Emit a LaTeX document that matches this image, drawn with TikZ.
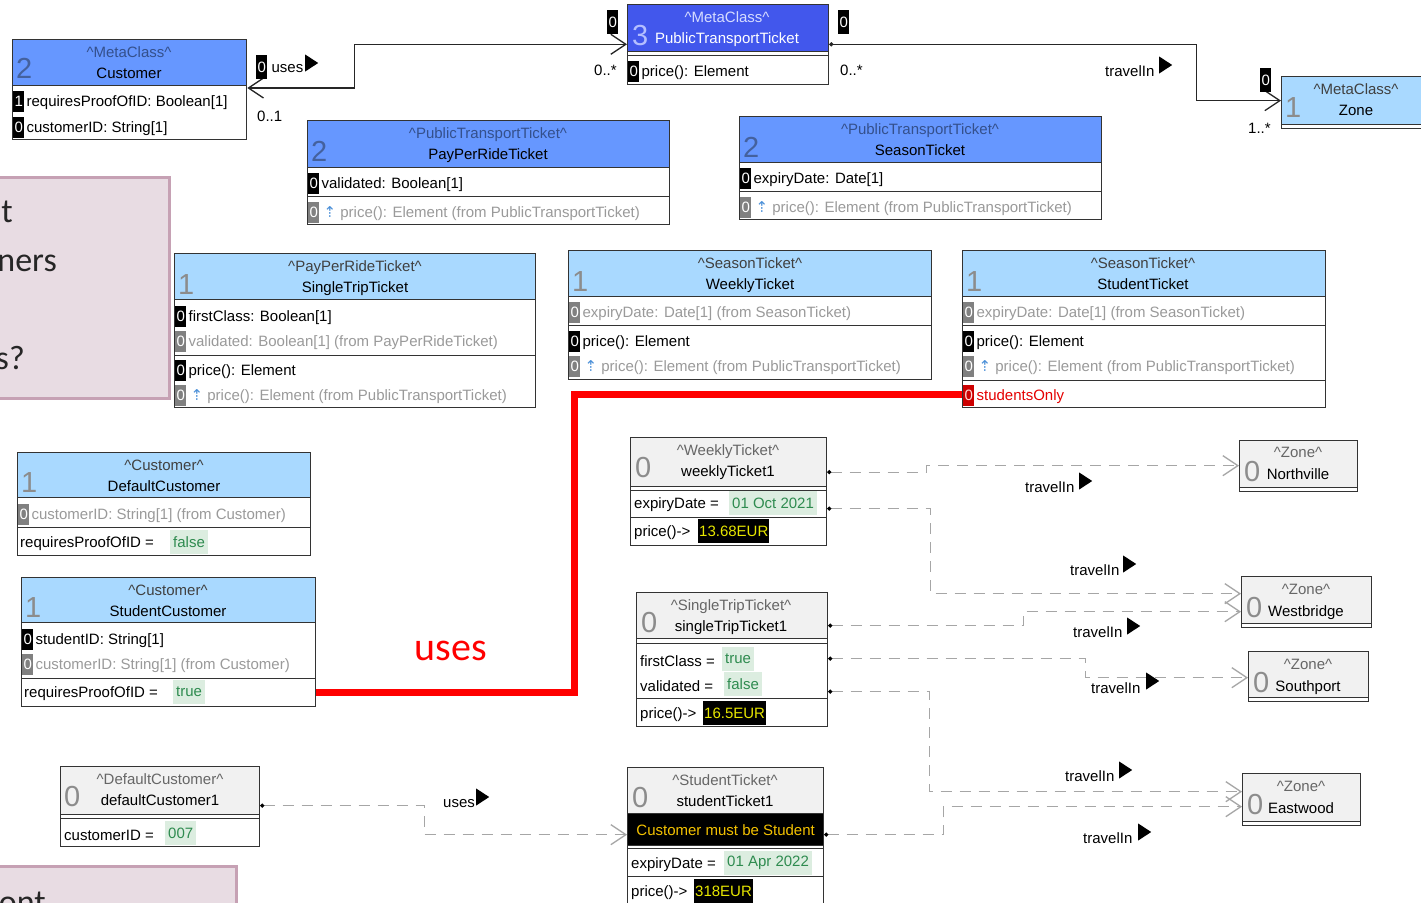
\documentclass[tikz,border=0pt]{standalone}
\usepackage{fontspec}
\setmainfont{Liberation Sans}
\newfontfamily\slidefont{Carlito}
\newfontfamily\dejafont{DejaVu Sans}
\usepackage{tikz}
\usetikzlibrary{positioning, arrows.meta, shapes.geometric}

\definecolor{metablue}{HTML}{6697FF}
\definecolor{ptblue}{HTML}{4257EC}
\definecolor{lightblue}{HTML}{A9D9FF}
\definecolor{objgray}{HTML}{F1F1F1}
\definecolor{numblue}{HTML}{44619E}
\definecolor{stblue}{HTML}{34508C}
\definecolor{ptnum}{HTML}{B4BEFF}
\definecolor{ptst}{HTML}{D6DCFF}
\definecolor{numgray}{HTML}{8C8C8C}
\definecolor{inhgray}{HTML}{9A9A9A}
\definecolor{valbg}{HTML}{DCEDE0}
\definecolor{valtx}{HTML}{2E8B4F}
\definecolor{resyel}{HTML}{E6E600}
\definecolor{ocl}{HTML}{F4C200}
\definecolor{upblue}{HTML}{4A8FD8}
\definecolor{pinkfill}{HTML}{E8DCE3}
\definecolor{pinkline}{HTML}{C6A1B4}
\definecolor{linkgray}{HTML}{A6A6A6}

\newcommand{\crt}{\textasciicircum}
\newcommand{\inhup}{{\dejafont\color{upblue}⇡}}

\tikzset{
  hd/.style={draw=black!80, line width=1.3pt, anchor=north west, inner sep=0pt},
  cp/.style={draw=black!80, line width=1.3pt, fill=white, anchor=north west, inner sep=0pt},
  num/.style={anchor=base west, inner sep=0pt, font=\fontsize{29}{29}\selectfont},
  ster/.style={anchor=base, inner sep=0pt},
  ttl/.style={anchor=base, inner sep=0pt},
  tag/.style={anchor=west, fill=black, text=white, inner sep=0pt, minimum width=11pt, minimum height=21pt},
  gtag/.style={tag, fill=black!50},
  rtag/.style={tag, fill=red!80!black, text=red!15},
  row/.style={anchor=west, inner sep=0pt, yshift=-2pt},
  inh/.style={row, text=inhgray},
  val/.style={anchor=west, fill=valbg, text=valtx, inner sep=3pt, minimum height=24pt},
  res/.style={anchor=west, fill=black, text=resyel, inner sep=1pt, minimum height=24pt},
  lbl/.style={anchor=west, inner sep=0pt},
  tri/.style={isosceles triangle, isosceles triangle stretches, fill=black, inner sep=0pt,
    minimum width=17pt, minimum height=13pt, anchor=west},
  assoc/.style={draw=black!85, line width=1.3pt},
  link/.style={draw=linkgray, line width=1.3pt, dash pattern=on 11pt off 8pt,
    {Circle[length=4pt,color=black]}-{Straight Barb[length=15pt,width=20pt]}},
  redline/.style={draw=red, line width=7pt},
  slide/.style={fill=pinkfill, draw=pinkline, line width=3pt},
  slidetxt/.style={inner sep=0pt, text=black!85, font=\slidefont\fontsize{34}{34}\selectfont},
}

\begin{document}
\begin{tikzpicture}[x=1pt, y=-1pt, font=\fontsize{15}{18}\selectfont]
\fill[white] (0,0) rectangle (1421,902);
\useasboundingbox (0,0) rectangle (1421,902);

% slide boxes
\draw[slide] (-10,177) rectangle (169,398);
\node[slidetxt, anchor=base east] (sl-1) at (13,222) {t};
\node[slidetxt, anchor=base east] (sl-2) at (57,271) {ners};
\node[slidetxt, anchor=base east] (sl-3) at (25,369) {s?};
\draw[slide] (-10,866) rectangle (236,920);
\node[slidetxt, anchor=base east] (sl-4) at (46,913) {ont};

% Customer
\node[hd, fill=metablue, minimum width=234pt, minimum height=46pt] (cust) at (12,39) {};
\node[num, text=numblue] (cust-n) at (16,78) {2};
\node[ster, text=stblue] (cust-s) at (129,57) {\crt MetaClass\crt};
\node[ttl] (cust-t) at (129,78) {Customer};
\node[cp, minimum width=234pt, minimum height=54pt] (cust-c1) at (12,85) {};
\node[tag] (cust-g1) at (13,101) {1};
\node[row, right=2pt of cust-g1] (cust-r1) {requiresProofOfID: Boolean[1]};
\node[tag] (cust-g2) at (13,127) {0};
\node[row, right=2pt of cust-g2] (cust-r2) {customerID: String[1]};

% PublicTransportTicket
\node[hd, fill=ptblue, minimum width=201pt, minimum height=47pt] (ptt) at (627,4) {};
\node[num, text=ptnum] (ptt-n) at (632,45) {3};
\node[ster, text=ptst] (ptt-s) at (727,22) {\crt MetaClass\crt};
\node[ttl, text=white] (ptt-t) at (727,43) {PublicTransportTicket};
\node[cp, minimum width=201pt, minimum height=4pt] (ptt-c0) at (627,51) {};
\node[cp, minimum width=201pt, minimum height=29pt] (ptt-c1) at (627,55) {};
\node[tag] (ptt-g1) at (628,71) {0};
\node[row, right=2pt of ptt-g1] (ptt-r1) {price(): Element};

% Zone
\node[hd, fill=lightblue, minimum width=150pt, minimum height=48pt] (zone) at (1281,76) {};
\node[num, text=numgray] (zone-n) at (1285,117) {1};
\node[ster, text=black!75] (zone-s) at (1356,94) {\crt MetaClass\crt};
\node[ttl] (zone-t) at (1356,115) {Zone};
\node[cp, minimum width=150pt, minimum height=4pt] (zone-c0) at (1281,124) {};

% associations
\draw[assoc, {Straight Barb[length=15pt,width=20pt]}-{Straight Barb[length=15pt,width=20pt]}]
  ([yshift=-3pt]cust-c1.north east) -- ++(107,0) |- ([yshift=8pt]ptt.south west);
\node[tag, minimum height=24pt] (us-g1) at (256,67) {0};
\node[lbl, right=4pt of us-g1, yshift=-2pt] (us-l) {uses};
\node[tri] (us-m) at (305,63) {};
\node[lbl] (us-e1) at (257,116) {0..1};
\node[lbl] (us-e2) at (594,70) {0..*};
\node[tag, minimum height=24pt] (us-g2) at (607,22) {0};

\draw[assoc, {Circle[length=4pt]}-{Straight Barb[length=15pt,width=20pt]}]
  ([yshift=8pt]ptt.south east) -- ++(367,0) |- (zone.west);
\node[tag, minimum height=24pt] (tr-g1) at (838,22) {0};
\node[lbl] (tr-e1) at (840,70) {0..*};
\node[lbl] (tr-l) at (1105,71) {travelIn};
\node[tri] (tr-m) at (1159,65) {};
\node[tag, minimum height=24pt] (tr-g2) at (1260,80) {0};
\node[lbl] (tr-e2) at (1248,128) {1..*};

% PayPerRideTicket
\node[hd, fill=metablue, minimum width=362pt, minimum height=47pt] (ppr) at (307,120) {};
\node[num, text=numblue] (ppr-n) at (311,161) {2};
\node[ster, text=stblue] (ppr-s) at (488,138) {\crt PublicTransportTicket\crt};
\node[ttl] (ppr-t) at (488,159) {PayPerRideTicket};
\node[cp, minimum width=362pt, minimum height=29pt] (ppr-c1) at (307,167) {};
\node[tag] (ppr-g1) at (308,183) {0};
\node[row, right=2pt of ppr-g1] (ppr-r1) {validated: Boolean[1]};
\node[cp, minimum width=362pt, minimum height=28pt] (ppr-c2) at (307,196) {};
\node[gtag] (ppr-g2) at (308,212) {0};
\node[inh, right=4pt of ppr-g2] (ppr-r2) {\inhup\ price(): Element (from PublicTransportTicket)};

% SeasonTicket
\node[hd, fill=metablue, minimum width=362pt, minimum height=46pt] (sea) at (739,116) {};
\node[num, text=numblue] (sea-n) at (743,157) {2};
\node[ster, text=stblue] (sea-s) at (920,134) {\crt PublicTransportTicket\crt};
\node[ttl] (sea-t) at (920,155) {SeasonTicket};
\node[cp, minimum width=362pt, minimum height=29pt] (sea-c1) at (739,162) {};
\node[tag] (sea-g1) at (740,178) {0};
\node[row, right=2pt of sea-g1] (sea-r1) {expiryDate: Date[1]};
\node[cp, minimum width=362pt, minimum height=28pt] (sea-c2) at (739,191) {};
\node[gtag] (sea-g2) at (740,207) {0};
\node[inh, right=4pt of sea-g2] (sea-r2) {\inhup\ price(): Element (from PublicTransportTicket)};

% SingleTripTicket
\node[hd, fill=lightblue, minimum width=361pt, minimum height=46pt] (stt) at (174,253) {};
\node[num, text=numgray] (stt-n) at (178,294) {1};
\node[ster, text=black!75] (stt-s) at (355,271) {\crt PayPerRideTicket\crt};
\node[ttl] (stt-t) at (355,292) {SingleTripTicket};
\node[cp, minimum width=361pt, minimum height=56pt] (stt-c1) at (174,299) {};
\node[tag] (stt-g1) at (175,316) {0};
\node[row, right=2pt of stt-g1] (stt-r1) {firstClass: Boolean[1]};
\node[gtag] (stt-g2) at (175,341) {0};
\node[inh, right=2pt of stt-g2] (stt-r2) {validated: Boolean[1] (from PayPerRideTicket)};
\node[cp, minimum width=361pt, minimum height=52pt] (stt-c2) at (174,355) {};
\node[tag] (stt-g3) at (175,370) {0};
\node[row, right=2pt of stt-g3] (stt-r3) {price(): Element};
\node[gtag] (stt-g4) at (175,395) {0};
\node[inh, right=4pt of stt-g4] (stt-r4) {\inhup\ price(): Element (from PublicTransportTicket)};

% WeeklyTicket
\node[hd, fill=lightblue, minimum width=363pt, minimum height=46pt] (wk) at (568,250) {};
\node[num, text=numgray] (wk-n) at (572,291) {1};
\node[ster, text=black!75] (wk-s) at (750,268) {\crt SeasonTicket\crt};
\node[ttl] (wk-t) at (750,289) {WeeklyTicket};
\node[cp, minimum width=363pt, minimum height=29pt] (wk-c1) at (568,296) {};
\node[gtag] (wk-g1) at (569,312) {0};
\node[inh, right=2pt of wk-g1] (wk-r1) {expiryDate: Date[1] (from SeasonTicket)};
\node[cp, minimum width=363pt, minimum height=54pt] (wk-c2) at (568,325) {};
\node[tag] (wk-g2) at (569,341) {0};
\node[row, right=2pt of wk-g2] (wk-r2) {price(): Element};
\node[gtag] (wk-g3) at (569,366) {0};
\node[inh, right=4pt of wk-g3] (wk-r3) {\inhup\ price(): Element (from PublicTransportTicket)};

% StudentTicket
\node[hd, fill=lightblue, minimum width=363pt, minimum height=46pt] (stu) at (962,250) {};
\node[num, text=numgray] (stu-n) at (966,291) {1};
\node[ster, text=black!75] (stu-s) at (1143,268) {\crt SeasonTicket\crt};
\node[ttl] (stu-t) at (1143,289) {StudentTicket};
\node[cp, minimum width=363pt, minimum height=29pt] (stu-c1) at (962,296) {};
\node[gtag] (stu-g1) at (963,312) {0};
\node[inh, right=2pt of stu-g1] (stu-r1) {expiryDate: Date[1] (from SeasonTicket)};
\node[cp, minimum width=363pt, minimum height=55pt] (stu-c2) at (962,325) {};
\node[tag] (stu-g2) at (963,341) {0};
\node[row, right=2pt of stu-g2] (stu-r2) {price(): Element};
\node[gtag] (stu-g3) at (963,366) {0};
\node[inh, right=4pt of stu-g3] (stu-r3) {\inhup\ price(): Element (from PublicTransportTicket)};
\node[cp, minimum width=363pt, minimum height=27pt] (stu-c3) at (962,380) {};
\node[rtag] (stu-g4) at (963,395) {0};
\node[row, text=red!90!black, right=2pt of stu-g4] (stu-r4) {studentsOnly};

% DefaultCustomer
\node[hd, fill=lightblue, minimum width=293pt, minimum height=45pt] (dcu) at (17,452) {};
\node[num, text=numgray] (dcu-n) at (21,492) {1};
\node[ster, text=black!75] (dcu-s) at (164,470) {\crt Customer\crt};
\node[ttl] (dcu-t) at (164,491) {DefaultCustomer};
\node[cp, minimum width=293pt, minimum height=30pt] (dcu-c1) at (17,497) {};
\node[gtag] (dcu-g1) at (18,514) {0};
\node[inh, right=2pt of dcu-g1] (dcu-r1) {customerID: String[1] (from Customer)};
\node[cp, minimum width=293pt, minimum height=28pt] (dcu-c2) at (17,527) {};
\node[row] (dcu-r2) at (20,542) {requiresProofOfID =};
\node[val] (dcu-v2) at (170,542) {false};

% StudentCustomer
\node[hd, fill=lightblue, minimum width=294pt, minimum height=45pt] (sc) at (21,577) {};
\node[num, text=numgray] (sc-n) at (25,617) {1};
\node[ster, text=black!75] (sc-s) at (168,595) {\crt Customer\crt};
\node[ttl] (sc-t) at (168,616) {StudentCustomer};
\node[cp, minimum width=294pt, minimum height=56pt] (sc-c1) at (21,622) {};
\node[tag] (sc-g1) at (22,639) {0};
\node[row, right=2pt of sc-g1] (sc-r1) {studentID: String[1]};
\node[gtag] (sc-g2) at (22,664) {0};
\node[inh, right=2pt of sc-g2] (sc-r2) {customerID: String[1] (from Customer)};
\node[cp, minimum width=294pt, minimum height=28pt] (sc-c2) at (21,678) {};
\node[row] (sc-r3) at (24,692) {requiresProofOfID =};
\node[val] (sc-v3) at (173,692) {true};

% red uses
\draw[redline] (sc-c2.east) -- ++(258,0) |- (stu-c3.west);
\node[inner sep=0pt, text=red, font=\slidefont\fontsize{40}{40}\selectfont] (red-l) at (451,651) {uses};

% weeklyTicket1
\node[hd, fill=objgray, minimum width=196pt, minimum height=49pt] (wt1) at (630,437) {};
\node[num, text=numgray] (wt1-n) at (635,477) {0};
\node[ster, text=black!60] (wt1-s) at (728,455) {\crt WeeklyTicket\crt};
\node[ttl] (wt1-t) at (728,476) {weeklyTicket1};
\node[cp, minimum width=196pt, minimum height=4pt] (wt1-c0) at (630,486) {};
\node[cp, minimum width=196pt, minimum height=27pt] (wt1-c1) at (630,490) {};
\node[row] (wt1-r1) at (634,503) {expiryDate =};
\node[val] (wt1-v1) at (729,503) {01 Oct 2021};
\node[cp, minimum width=196pt, minimum height=28pt] (wt1-c2) at (630,517) {};
\node[row] (wt1-r2) at (634,531) {price()->};
\node[res] (wt1-v2) at (698,531) {13.68EUR};

% singleTripTicket1
\node[hd, fill=objgray, minimum width=191pt, minimum height=46pt] (stt1) at (636,592) {};
\node[num, text=numgray] (stt1-n) at (641,632) {0};
\node[ster, text=black!60] (stt1-s) at (731,610) {\crt SingleTripTicket\crt};
\node[ttl] (stt1-t) at (731,631) {singleTripTicket1};
\node[cp, minimum width=191pt, minimum height=5pt] (stt1-c0) at (636,638) {};
\node[cp, minimum width=191pt, minimum height=55pt] (stt1-c1) at (636,643) {};
\node[row] (stt1-r1) at (640,659) {firstClass =};
\node[val] (stt1-v1) at (722,659) {true};
\node[row] (stt1-r2) at (640,684) {validated =};
\node[val] (stt1-v2) at (724,684) {false};
\node[cp, minimum width=191pt, minimum height=28pt] (stt1-c2) at (636,698) {};
\node[row] (stt1-r3) at (640,713) {price()->};
\node[res] (stt1-v3) at (703,713) {16.5EUR};

% studentTicket1
\node[hd, fill=objgray, minimum width=196pt, minimum height=46pt] (st1) at (627,767) {};
\node[num, text=numgray] (st1-n) at (632,807) {0};
\node[ster, text=black!60] (st1-s) at (725,785) {\crt StudentTicket\crt};
\node[ttl] (st1-t) at (725,806) {studentTicket1};
\node[hd, fill=black, text=ocl, minimum width=196pt, minimum height=32pt] (st1-ocl) at (627,813) {Customer must be Student};
\node[cp, minimum width=196pt, minimum height=3pt] (st1-c0) at (627,845) {};
\node[cp, minimum width=196pt, minimum height=28pt] (st1-c1) at (627,848) {};
\node[row] (st1-r1) at (631,863) {expiryDate =};
\node[val] (st1-v1) at (724,863) {01 Apr 2022};
\node[cp, minimum width=196pt, minimum height=30pt] (st1-c2) at (627,876) {};
\node[row] (st1-r2) at (631,891) {price()->};
\node[res] (st1-v2) at (694,891) {318EUR};

% defaultCustomer1
\node[hd, fill=objgray, minimum width=199pt, minimum height=48pt] (dc1) at (60,766) {};
\node[num, text=numgray] (dc1-n) at (64,806) {0};
\node[ster, text=black!60] (dc1-s) at (160,784) {\crt DefaultCustomer\crt};
\node[ttl] (dc1-t) at (160,805) {defaultCustomer1};
\node[cp, minimum width=199pt, minimum height=4pt] (dc1-c0) at (60,814) {};
\node[cp, minimum width=199pt, minimum height=28pt] (dc1-c1) at (60,818) {};
\node[row] (dc1-r1) at (64,833) {customerID =};
\node[val] (dc1-v1) at (165,833) {007};

% zone objects
\node[hd, fill=objgray, minimum width=118pt, minimum height=47pt] (nv) at (1239,440) {};
\node[num, text=numgray] (nv-n) at (1244,481) {0};
\node[ster, text=black!60] (nv-s) at (1298,457) {\crt Zone\crt};
\node[ttl] (nv-t) at (1298,479) {Northville};
\node[cp, minimum width=118pt, minimum height=4pt] (nv-c0) at (1239,487) {};

\node[hd, fill=objgray, minimum width=130pt, minimum height=47pt] (wb) at (1241,576) {};
\node[num, text=numgray] (wb-n) at (1246,617) {0};
\node[ster, text=black!60] (wb-s) at (1306,594) {\crt Zone\crt};
\node[ttl] (wb-t) at (1306,616) {Westbridge};
\node[cp, minimum width=130pt, minimum height=4pt] (wb-c0) at (1241,623) {};

\node[hd, fill=objgray, minimum width=120pt, minimum height=46pt] (sp) at (1248,651) {};
\node[num, text=numgray] (sp-n) at (1253,692) {0};
\node[ster, text=black!60] (sp-s) at (1308,669) {\crt Zone\crt};
\node[ttl] (sp-t) at (1308,691) {Southport};
\node[cp, minimum width=120pt, minimum height=4pt] (sp-c0) at (1248,697) {};

\node[hd, fill=objgray, minimum width=118pt, minimum height=48pt] (ew) at (1242,773) {};
\node[num, text=numgray] (ew-n) at (1247,814) {0};
\node[ster, text=black!60] (ew-s) at (1301,791) {\crt Zone\crt};
\node[ttl] (ew-t) at (1301,813) {Eastwood};
\node[cp, minimum width=118pt, minimum height=4pt] (ew-c0) at (1242,821) {};

% links
\draw[link] ([yshift=-10pt]wt1.east) -- ++(99,0) |- ([yshift=-1.5pt]nv.west);
\node[lbl] (l1) at (1025,487) {travelIn};
\node[tri] (l1-m) at (1079,481) {};
\draw[link] ([yshift=-4.5pt]wt1-c1.east) -- ++(103,0) |- ([yshift=6.5pt]wb.west);
\node[lbl] (l2) at (1070,570) {travelIn};
\node[tri] (l2-m) at (1123,564) {};
\draw[link] ([yshift=-10pt]stt1.east) -- ++(195,0) |- ([yshift=-11.5pt]wb.west);
\node[lbl] (l3) at (1073,632) {travelIn};
\node[tri] (l3-m) at (1127,626) {};
\draw[link] ([yshift=12.5pt]stt1-c1.east) -- ++(257,0) |- ([yshift=-3pt]sp.west);
\node[lbl] (l4) at (1091,688) {travelIn};
\node[tri] (l4-m) at (1146,681) {};
\draw[link] ([yshift=-20.5pt]stt1-c1.east) -- ++(101,0) |- ([yshift=6pt]ew.west);
\node[lbl] (l5) at (1065,776) {travelIn};
\node[tri] (l5-m) at (1119,770) {};
\draw[link] ([yshift=-5pt]st1-ocl.east) -- ++(119,0) |- ([yshift=-9pt]ew.west);
\node[lbl] (l6) at (1083,838) {travelIn};
\node[tri] (l6-m) at (1138,832) {};
\draw[link] ([yshift=-15pt]dc1.east) -- ++(164,0) |- ([yshift=-5pt]st1-ocl.west);
\node[lbl] (l7) at (443,804) {uses};
\node[tri] (l7-m) at (476,797) {};
\end{tikzpicture}
\end{document}
